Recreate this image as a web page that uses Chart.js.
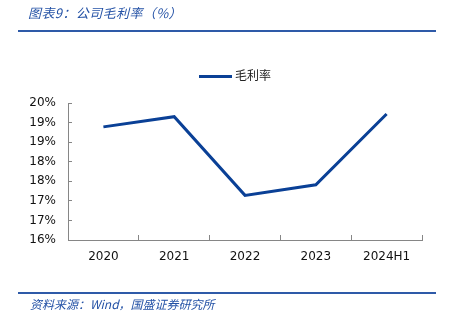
<!DOCTYPE html>
<html>
<head>
<meta charset="utf-8">
<script src="https://cdn.jsdelivr.net/npm/chart.js@4"></script>
<style>
  body { margin: 0; background: #fff; }
  #wrap { position: relative; width: 449px; height: 323px; overflow: hidden; }
  #chart { position: absolute; left: 0; top: 0; }
  .txt { position: absolute; color: #2452a6; font-style: italic; font-family: "Noto Sans CJK SC", sans-serif; white-space: nowrap; }
  .rule { position: absolute; left: 18px; width: 418px; height: 2px; background: #2e5aa8; }
  #legend { position: absolute; left: 199px; top: 66px; font: 12px "Noto Sans CJK SC", sans-serif; color: #222; }
  #legend span.ln { display: inline-block; width: 33px; height: 3px; background: #0a4096; vertical-align: middle; margin-right: 3px; }
</style>
</head>
<body>
<div id="wrap">
  <canvas id="chart" width="449" height="323"></canvas>
  <div class="txt" style="left:28px; top:3px; font-size:13px; letter-spacing:0.4px;">图表9：公司毛利率（%）</div>
  <div class="rule" style="top:30px;"></div>
  <div id="legend"><span class="ln"></span>毛利率</div>
  <div class="rule" style="top:292px;"></div>
  <div class="txt" style="left:30px; top:295px; font-size:12px;">资料来源：Wind，国盛证券研究所</div>
</div>
<script>
const categories = ['2020', '2021', '2022', '2023', '2024H1'];
const grossMargin = [18.89, 19.15, 17.14, 17.41, 19.22];
const yMin = 16, yMax = 19.5, yStep = 0.5;

const axisColor = '#868686';
const tickFont = { family: 'DejaVu Sans', size: 12 };

new Chart(document.getElementById('chart').getContext('2d'), {
    type: 'line',
    data: {
        labels: categories,
        datasets: [{
            label: '毛利率',
            data: grossMargin,
            borderColor: '#0a4096',
            backgroundColor: '#0a4096',
            borderWidth: 3,
            pointRadius: 0,
            tension: 0,
            fill: false
        }]
    },
    options: {
        responsive: false,
        animation: false,
        layout: { padding: { left: 0, right: 27, top: 103, bottom: 0 } },
        plugins: {
            legend: { display: false },
            tooltip: { enabled: false }
        },
        scales: {
            x: {
                offset: true,
                grid: { offset: true, drawOnChartArea: false, tickLength: -5, color: axisColor },
                border: { color: axisColor, width: 1 },
                ticks: { color: '#111', font: tickFont, padding: 15, maxRotation: 0 },
                afterFit: function(scale) { scale.height = 83; }
            },
            y: {
                min: yMin,
                max: yMax,
                grid: { drawOnChartArea: false, tickLength: -4, color: axisColor },
                border: { color: axisColor, width: 1 },
                ticks: {
                    stepSize: yStep,
                    color: '#111',
                    font: tickFont,
                    padding: 16,
                    callback: function(v) { return Math.round(v) + '%'; }
                },
                afterFit: function(scale) { scale.width = 68; }
            }
        }
    }
});
</script>
</body>
</html>
